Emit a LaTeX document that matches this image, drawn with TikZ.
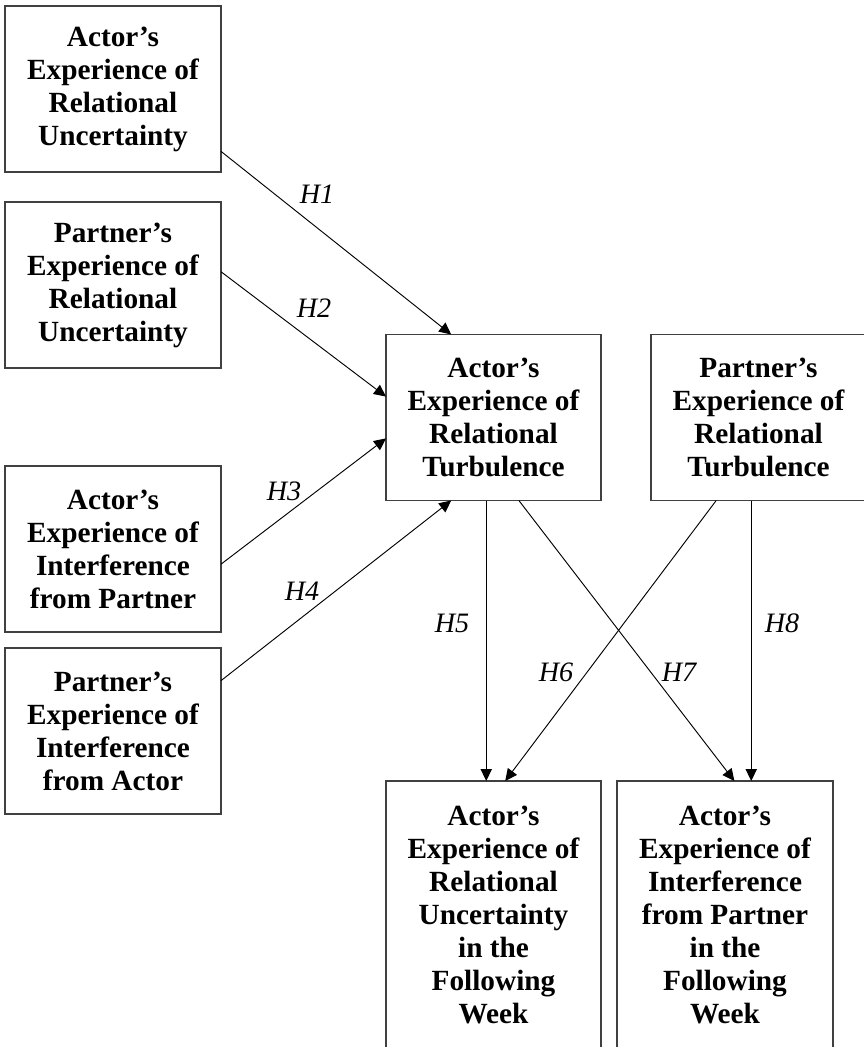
\documentclass[tikz,border=0pt]{standalone}
\usepackage{fontspec}
\setmainfont{Liberation Serif}
\usetikzlibrary{arrows.meta}

\begin{document}
\begin{tikzpicture}[x=0.03cm, y=-0.03cm,
  every node/.style={font=\fontsize{25}{28.2}\selectfont\bfseries},
  varbox/.style={draw=black!75, line width=1.1pt, align=center, inner sep=0pt, outer sep=0pt,
    minimum width=6.48cm, minimum height=4.98cm},
  hyp/.style={font=\fontsize{24}{24}\selectfont\itshape},
  link/.style={-{Triangle[length=0.36cm, width=0.34cm]}, line width=0.8pt}]
  \useasboundingbox (0,0) rectangle (863,1047);

  % predictors
  \node[varbox] (aru) at (113,89) {Actor’s\\Experience of\\Relational\\Uncertainty};
  \node[varbox] (pru) at (113,285) {Partner’s\\Experience of\\Relational\\Uncertainty};
  \node[varbox] (aif) at (113,549) {Actor’s\\Experience of\\Interference\\from Partner};
  \node[varbox] (pif) at (113,731) {Partner’s\\Experience of\\Interference\\from Actor};

  % turbulence
  \node[varbox, minimum width=6.45cm] (art) at (493.5,417.5) {Actor’s\\Experience of\\Relational\\Turbulence};
  \node[varbox, minimum width=6.45cm] (prt) at (758.5,417.5) {Partner’s\\Experience of\\Relational\\Turbulence};

  % outcomes
  \node[varbox, minimum width=6.45cm, minimum height=8.04cm] (aruw) at (493.5,915)
    {Actor’s\\Experience of\\Relational\\Uncertainty\\in the\\Following\\Week};
  \node[varbox, minimum height=8.04cm] (aifw) at (725,915)
    {Actor’s\\Experience of\\Interference\\from Partner\\in the\\Following\\Week};

  \draw[link] (aru.-30.6) -- (art.117.8);
  \draw[link] (pru.7.9) -- (art.169.2);
  \draw[link] (aif.-8.4) -- (art.-169.2);
  \draw[link] (pif.25.3) -- (art.-117.8);
  \draw[link] (art.-95.2) -- (art.-95.2 |- aruw.north);
  \draw[link] (prt.-117.3) -- (aruw.85.9);
  \draw[link] (art.-73.5) -- (aifw.86.6);
  \draw[link] (prt.-95.9) -- (prt.-95.9 |- aifw.north);

  \node[hyp] (h1) at (317,194) {H1};
  \node[hyp] (h2) at (314,308) {H2};
  \node[hyp] (h3) at (284,491) {H3};
  \node[hyp] (h4) at (302,591) {H4};
  \node[hyp] (h5) at (452,623) {H5};
  \node[hyp] (h6) at (556,672) {H6};
  \node[hyp] (h7) at (679,672) {H7};
  \node[hyp] (h8) at (782,623) {H8};
\end{tikzpicture}
\end{document}
